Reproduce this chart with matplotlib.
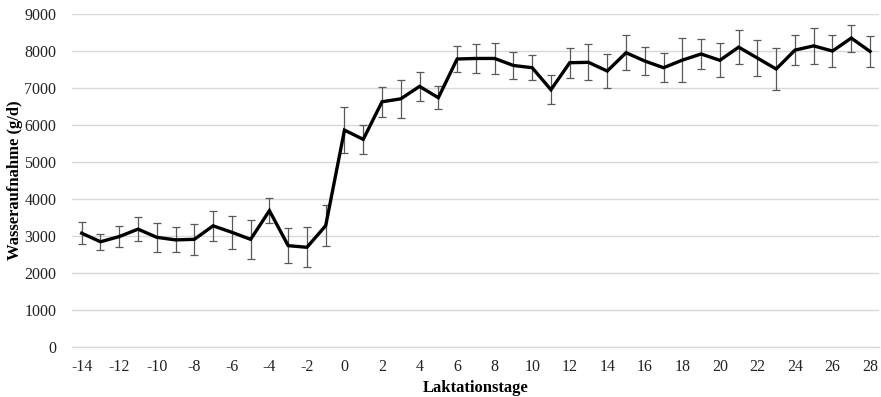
import matplotlib
matplotlib.use("Agg")
import matplotlib.pyplot as plt
import numpy as np

# Laktationstage (-14 .. 28) and mean water intake with standard deviation
days = list(range(-14, 29))
intake = [3080, 2850, 2990, 3190, 2970, 2900, 2915, 3280, 3105, 2915, 3690, 2745, 2700, 3285,
          5865, 5615, 6630, 6710, 7045, 6740, 7785, 7800, 7800, 7610, 7550, 6955, 7685,
          7695, 7460, 7955, 7730, 7550, 7755, 7920, 7750, 8105, 7810, 7515, 8025, 8140,
          8000, 8350, 7990]
sd = [300, 210, 280, 320, 400, 340, 410, 400, 450, 535, 340, 480, 535, 545,
      630, 390, 405, 520, 395, 315, 360, 390, 420, 360, 340, 395, 405,
      490, 470, 480, 390, 390, 585, 395, 455, 465, 475, 565, 395, 480,
      435, 365, 410]
xticks = list(range(-14, 29, 2))
yticks = list(range(0, 9001, 1000))

plt.rcParams["font.family"] = ["Liberation Serif", "DejaVu Serif"]

fig = plt.figure(figsize=(8.81, 3.97), dpi=100)
ax = fig.add_axes([0.0821, 0.1252, 0.9161, 0.8395])

ax.errorbar(days, intake, yerr=sd, fmt="none", ecolor="#595959",
            elinewidth=0.9, capsize=3, capthick=0.9, zorder=2)
ax.plot(days, intake, color="black", linewidth=2.4, zorder=3,
        solid_joinstyle="miter")

ax.set_xlim(-14.5, 28.5)
ax.set_ylim(0, 9000)
ax.set_xticks(xticks)
ax.set_yticks(yticks)
ax.set_xticklabels([str(v) for v in xticks])
ax.set_yticklabels([str(v) for v in yticks])
ax.tick_params(axis="both", length=0, labelsize=11.5, colors="#222222")
ax.tick_params(axis="y", pad=11.5)
ax.tick_params(axis="x", pad=8.5)

ax.grid(axis="y", color="#d9d9d9", linewidth=1.0, zorder=0)
ax.set_axisbelow(True)
for side in ("top", "right", "left"):
    ax.spines[side].set_visible(False)
ax.spines["bottom"].set_color("#d9d9d9")
ax.spines["bottom"].set_linewidth(1.0)

ax.set_xlabel("Laktationstage", fontsize=12, fontweight="bold", labelpad=3.5)
ax.set_ylabel("Wasseraufnahme (g/d)", fontsize=12, fontweight="bold", labelpad=1)

fig.savefig("out.png", dpi=100)
